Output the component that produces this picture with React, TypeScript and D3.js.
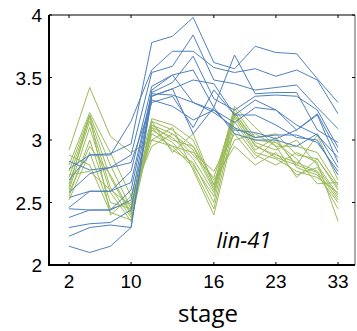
import React from "react";
import * as d3 from "d3";

const stageLabels = ["2", "10", "16", "23", "33"];
const stageTickIdx = [0, 3, 7, 10, 13];
const yTicks = [2, 2.5, 3, 3.5, 4];

const blueSeries: number[][] = [
  [2.77, 2.88, 2.89, 2.97, 3.78, 3.83, 3.98, 3.62, 3.57, 3.75, 3.70, 3.69, 3.49, 3.30],
  [2.68, 2.88, 2.88, 3.15, 3.56, 3.71, 3.71, 3.58, 3.54, 3.57, 3.51, 3.56, 3.48, 3.21],
  [2.58, 2.73, 2.78, 2.88, 3.54, 3.59, 3.84, 3.48, 3.45, 3.40, 3.42, 3.44, 3.26, 3.09],
  [2.54, 2.59, 2.59, 2.75, 3.43, 3.52, 3.56, 3.26, 3.68, 3.37, 3.38, 3.38, 3.08, 2.98],
  [2.46, 2.59, 2.59, 2.66, 3.38, 3.46, 3.67, 3.33, 3.24, 3.35, 3.36, 3.35, 3.24, 2.94],
  [2.45, 2.44, 2.44, 2.52, 3.35, 3.41, 3.48, 3.45, 3.20, 3.32, 3.24, 3.08, 3.21, 2.90],
  [2.38, 2.44, 2.44, 2.60, 3.37, 3.36, 3.30, 3.24, 3.14, 3.26, 3.24, 3.12, 3.04, 2.86],
  [2.30, 2.33, 2.34, 2.44, 3.32, 3.27, 3.16, 3.24, 3.08, 3.06, 3.01, 3.08, 3.20, 2.82],
  [2.23, 2.30, 2.32, 2.30, 3.35, 3.41, 3.05, 3.26, 3.05, 3.00, 3.00, 2.95, 3.05, 2.78],
  [2.15, 2.10, 2.15, 2.30, 3.40, 3.52, 3.30, 3.22, 3.10, 3.02, 3.04, 3.04, 2.98, 2.75],
  [2.83, 2.76, 2.78, 2.82, 3.30, 3.35, 3.10, 3.40, 3.20, 3.20, 3.12, 3.02, 3.00, 2.72],
];

const greenSeries: number[][] = [
  [2.92, 3.42, 3.03, 2.90, 3.00, 2.95, 2.90, 2.75, 3.05, 2.85, 3.00, 2.80, 3.04, 2.68],
  [2.80, 3.22, 2.90, 2.55, 3.17, 3.12, 3.00, 2.64, 3.27, 3.10, 2.95, 2.95, 2.90, 2.64],
  [2.75, 3.20, 2.80, 2.45, 3.15, 3.08, 2.95, 2.62, 3.25, 3.02, 3.05, 2.88, 2.85, 2.60],
  [2.70, 3.18, 2.70, 2.40, 3.12, 3.05, 2.92, 2.60, 3.22, 2.98, 2.92, 3.00, 2.80, 2.56],
  [2.65, 3.15, 2.62, 2.38, 3.10, 3.02, 2.85, 2.58, 3.20, 2.95, 2.88, 2.82, 2.75, 2.52],
  [2.60, 3.10, 2.58, 2.35, 3.08, 2.98, 2.80, 2.55, 3.18, 2.92, 3.02, 2.78, 2.72, 2.50],
  [2.55, 3.00, 2.50, 2.45, 3.05, 2.95, 2.78, 2.45, 3.15, 2.90, 2.85, 2.75, 2.70, 2.58],
  [2.52, 2.90, 2.45, 2.50, 3.00, 3.10, 2.76, 2.40, 3.10, 2.88, 2.80, 2.90, 2.82, 2.35],
  [2.88, 2.80, 2.42, 2.36, 3.15, 2.90, 3.05, 2.64, 3.00, 3.05, 2.95, 2.70, 2.85, 2.62],
  [2.72, 2.75, 2.60, 2.48, 3.12, 3.00, 2.95, 2.68, 2.95, 2.80, 2.90, 2.72, 2.78, 2.54],
  [2.62, 3.20, 2.40, 2.55, 2.95, 3.05, 2.88, 2.70, 3.22, 3.00, 2.98, 2.85, 2.65, 2.66],
  [2.58, 2.95, 2.72, 2.42, 3.10, 2.92, 2.82, 2.50, 3.20, 2.96, 2.86, 2.80, 2.74, 2.45],
];

const W = 357;
const H = 331;
const left = 49;
const right = 355;
const top = 15;
const bottom = 265;

export default function App() {
  const x = d3.scaleLinear().domain([0, 13]).range([69, 338]);
  const y = d3.scaleLinear().domain([2, 4]).range([bottom, top]);
  const line = d3
    .line<number>()
    .x((_, i) => x(i))
    .y((d) => y(d));

  return (
    <svg
      width={W}
      height={H}
      style={{ position: "absolute", left: 0, top: 0, background: "#fff" }}
    >
      <rect x={0} y={0} width={W} height={H} fill="#fff" />
      {greenSeries.map((s, i) => (
        <path key={"g" + i} d={line(s) || ""} fill="none" stroke="#9BBB59" strokeWidth={1} />
      ))}
      {blueSeries.map((s, i) => (
        <path key={"b" + i} d={line(s) || ""} fill="none" stroke="#4F81BD" strokeWidth={1} />
      ))}
      {/* frame */}
      <line x1={left} x2={right} y1={top} y2={top} stroke="#000" strokeWidth={1.2} />
      <line x1={right} x2={right} y1={top} y2={bottom} stroke="#555" strokeWidth={1} />
      <line x1={left} x2={left} y1={top} y2={bottom + 1} stroke="#000" strokeWidth={2} />
      <line x1={left - 1} x2={right} y1={bottom} y2={bottom} stroke="#000" strokeWidth={2} />
      {/* x ticks */}
      {stageTickIdx.map((t, i) => (
        <g key={"xt" + i}>
          <line x1={x(t)} x2={x(t)} y1={bottom} y2={bottom - 3} stroke="#000" strokeWidth={1} />
          <line x1={x(t)} x2={x(t)} y1={top} y2={top + 3} stroke="#000" strokeWidth={1} />
          <text
            x={x(t)}
            y={288}
            textAnchor="middle"
            fontFamily="Liberation Sans, Arial, sans-serif"
            fontSize={19}
            fill="#000"
          >
            {stageLabels[i]}
          </text>
        </g>
      ))}
      {/* y ticks */}
      {yTicks.map((t, i) => (
        <g key={"yt" + i}>
          <line x1={left} x2={left + 3} y1={y(t)} y2={y(t)} stroke="#000" strokeWidth={1} />
          <line x1={right - 3} x2={right} y1={y(t)} y2={y(t)} stroke="#000" strokeWidth={1} />
          <text
            x={42}
            y={y(t) + 7}
            textAnchor="end"
            fontFamily="Liberation Sans, Arial, sans-serif"
            fontSize={19}
            fill="#000"
          >
            {t}
          </text>
        </g>
      ))}
      <text
        x={244}
        y={248}
        textAnchor="middle"
        fontFamily="Open Sans, Noto Sans, sans-serif"
        fontStyle="italic"
        fontSize={22}
        fill="#000"
      >
        lin-41
      </text>
      <text
        x={208}
        y={322}
        textAnchor="middle"
        fontFamily="Open Sans, Noto Sans, sans-serif"
        fontSize={24}
        fill="#000"
      >
        stage
      </text>
    </svg>
  );
}
